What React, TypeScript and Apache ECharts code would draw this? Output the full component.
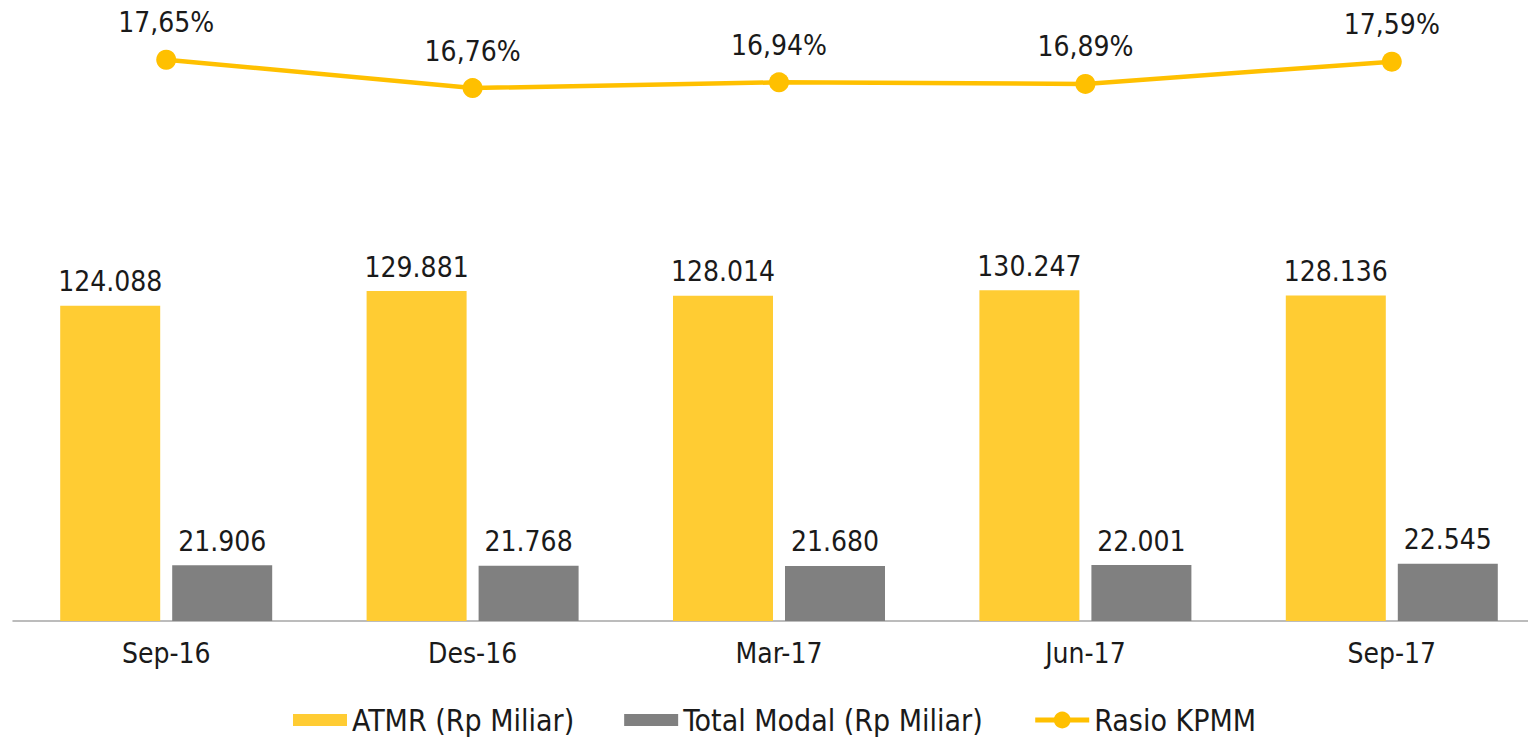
import React, { useEffect, useRef } from "react";
import * as echarts from "echarts";

const categories = ["Sep-16", "Des-16", "Mar-17", "Jun-17", "Sep-17"];
const atmr = [124088, 129881, 128014, 130247, 128136];
const totalModal = [21906, 21768, 21680, 22001, 22545];
const rasioKpmm = [17.65, 16.76, 16.94, 16.89, 17.59];
const seriesNames = ["ATMR (Rp Miliar)", "Total Modal (Rp Miliar)", "Rasio KPMM"];

const FONT = "'DejaVu Sans Condensed', 'DejaVu Sans', sans-serif";

function fmtThousands(v: number): string {
  return String(Math.round(v)).replace(/\B(?=(\d{3})+(?!\d))/g, ".");
}
function fmtPct(v: number): string {
  return v.toFixed(2).replace(".", ",") + "%";
}

export default function App() {
  const ref = useRef<HTMLDivElement>(null);
  useEffect(() => {
    document.body.style.margin = "0";
    if (!ref.current) return;
    const chart = echarts.init(ref.current, undefined, { renderer: "svg" });
    chart.setOption({
      animation: false,
      backgroundColor: "#ffffff",
      textStyle: { fontFamily: FONT },
      grid: { left: 13, right: 1, top: 20, bottom: 117, containLabel: false },
      legend: {
        left: 288,
        top: 700,
        itemWidth: 54,
        itemHeight: 21,
        itemGap: 50,
        textStyle: { fontSize: 30, color: "#1a1a1a", fontFamily: FONT },
        data: [
          { name: seriesNames[0], icon: "path://M0,0h54v12h-54z" },
          { name: seriesNames[1], icon: "path://M0,0h54v12h-54z" },
          { name: seriesNames[2], lineStyle: { width: 5, color: "#ffc000" } },
        ],
      },
      xAxis: {
        type: "category",
        data: categories,
        axisLine: { show: true, lineStyle: { color: "#a6a6a6", width: 1.5 } },
        axisTick: { show: false },
        axisLabel: { fontSize: 28, color: "#1a1a1a", margin: 18, fontFamily: FONT },
      },
      yAxis: [
        { type: "value", min: 0, max: 236600, show: false, splitLine: { show: false } },
        { type: "value", min: 0, max: 18.9, show: false, splitLine: { show: false } },
      ],
      series: [
        {
          name: seriesNames[0],
          type: "bar",
          data: atmr,
          barWidth: 100,
          barGap: "12%",
          itemStyle: { color: "#ffcc33" },
          label: {
            show: true,
            position: "top",
            distance: 10,
            fontSize: 28,
            color: "#1a1a1a",
            fontFamily: FONT,
            formatter: (p: any) => fmtThousands(p.value),
          },
        },
        {
          name: seriesNames[1],
          type: "bar",
          data: totalModal,
          barWidth: 100,
          barGap: "12%",
          itemStyle: { color: "#808080" },
          label: {
            show: true,
            position: "top",
            distance: 10,
            fontSize: 28,
            color: "#1a1a1a",
            fontFamily: FONT,
            formatter: (p: any) => fmtThousands(p.value),
          },
        },
        {
          name: seriesNames[2],
          type: "line",
          yAxisIndex: 1,
          data: rasioKpmm,
          symbol: "circle",
          symbolSize: 20,
          itemStyle: { color: "#ffc000" },
          lineStyle: { color: "#ffc000", width: 4.5 },
          label: {
            show: true,
            position: "top",
            distance: 13,
            fontSize: 28,
            color: "#1a1a1a",
            fontFamily: FONT,
            formatter: (p: any) => fmtPct(p.value),
          },
        },
      ],
    });
    return () => chart.dispose();
  }, []);
  return (
    <div style={{ position: "fixed", left: 0, top: 0, width: 1528, height: 738, overflow: "hidden", background: "#fff" }}>
      <div ref={ref} style={{ width: 1546, height: 738 }} />
    </div>
  );
}
